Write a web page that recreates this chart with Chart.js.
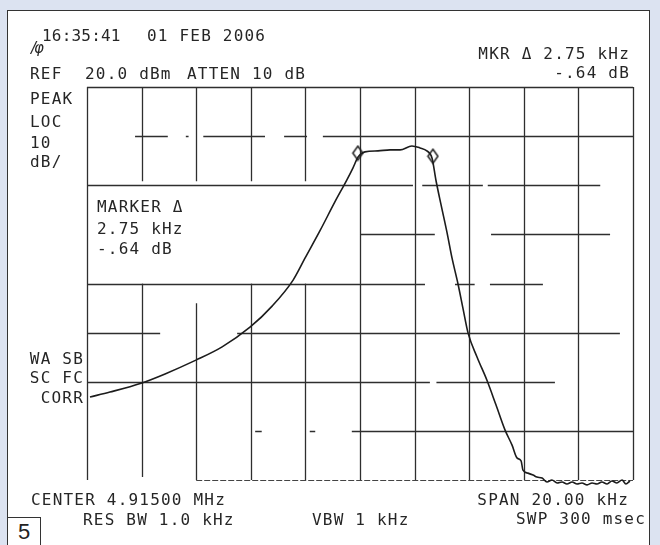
<!DOCTYPE html>
<html>
<head>
<meta charset="utf-8">
<script src="https://cdn.jsdelivr.net/npm/chart.js@4/dist/chart.umd.min.js"></script>
<style>
  html, body { margin: 0; padding: 0; }
  body { width: 660px; height: 545px; background: #dce3f1; position: relative; overflow: hidden; }
  #panel { position: absolute; left: 7px; top: 10px; width: 643px; height: 545px; background: #fff; border: 1.5px solid #333; box-sizing: border-box; }
  #chart { position: absolute; left: 0; top: 0; }
  .t { position: absolute; font-family: "DejaVu Sans Mono", monospace; font-size: 16px; line-height: 1; color: #262626; letter-spacing: 1.2px; white-space: pre; transform: translateY(-50%); }
  .r { text-align: right; }
  #fig { position: absolute; left: 7px; top: 517px; width: 34px; height: 30px; background: #fff; border: 1.5px solid #333; box-sizing: border-box; font-family: "Liberation Sans", Arial, sans-serif; font-size: 22px; line-height: 27px; text-align: center; color: #222; }
</style>
</head>
<body>
<div id="panel"></div>
<canvas id="chart" width="660" height="545"></canvas>

<div class="t" style="left:42px;top:36px;letter-spacing:0.2px">16:35:41</div>
<div class="t" style="left:147px;top:36px">01 FEB 2006</div>
<div class="t" style="left:31px;top:48px;font-family:'DejaVu Sans';font-style:italic;font-size:15px;letter-spacing:-2px">/φ</div>
<div class="t" style="left:30px;top:74px">REF</div>
<div class="t" style="left:85px;top:74px">20.0 dBm</div>
<div class="t" style="left:187px;top:74px">ATTEN 10 dB</div>
<div class="t r" style="right:30px;top:54px">MKR Δ 2.75 kHz</div>
<div class="t r" style="right:30px;top:73px">-.64 dB</div>

<div class="t" style="left:30px;top:99px">PEAK</div>
<div class="t" style="left:30px;top:122px">LOC</div>
<div class="t" style="left:30px;top:143px">10</div>
<div class="t" style="left:30px;top:162px">dB/</div>

<div class="t" style="left:97px;top:207px">MARKER Δ</div>
<div class="t" style="left:97px;top:229px">2.75 kHz</div>
<div class="t" style="left:97px;top:249px">-.64 dB</div>

<div class="t r" style="right:576px;top:359px">WA SB</div>
<div class="t r" style="right:576px;top:378px">SC FC</div>
<div class="t r" style="right:576px;top:398px">CORR</div>

<div class="t" style="left:31px;top:500px">CENTER 4.91500 MHz</div>
<div class="t" style="left:83px;top:520px">RES BW 1.0 kHz</div>
<div class="t" style="left:312px;top:520px">VBW 1 kHz</div>
<div class="t r" style="right:31px;top:500px">SPAN 20.00 kHz</div>
<div class="t r" style="right:14px;top:519px">SWP 300 msec</div>

<div id="fig">5</div>

<script>
// ---- data (frequency offset from 4.91500 MHz centre, kHz; level, dBm) ----
const freqOffsetKHz = [
  -9.89, -9.16, -8.02, -7.14, -6.01, -5.05, -4.03, -3.22, -2.45, -2.01,
  -1.47, -0.92, -0.48, -0.26, -0.07, 0.18, 0.66, 1.10, 1.47, 1.90,
  2.20, 2.45, 2.64, 2.78, 2.97, 3.19, 3.37, 3.59, 3.77, 3.96,
  4.29, 4.65, 4.98, 5.31, 5.57, 5.75, 5.90, 5.97, 6.15, 6.34,
  6.48, 6.67, 6.85, 7.03, 7.22, 7.40, 7.58, 7.77, 7.95, 8.13,
  8.32, 8.50, 8.68, 8.86, 9.05, 9.23, 9.41, 9.60, 9.74, 9.89
];
const levelDbm = [
  -43.1, -42.1, -40.3, -38.4, -35.6, -32.9, -28.9, -24.6, -19.3, -14.8,
  -9.3, -3.4, 1.1, 3.5, 5.75, 6.8, 7.0, 7.2, 7.2, 8.0,
  7.6, 7.0, 5.5, 1.07, -4.0, -9.7, -14.8, -20.1, -25.0, -30.1,
  -35.0, -39.7, -44.7, -49.8, -52.9, -55.5, -56.1, -58.0, -58.6, -59.0,
  -59.4, -59.6, -60.4, -60.0, -60.6, -60.4, -60.8, -60.4, -60.8, -60.6,
  -61.0, -60.6, -60.8, -60.4, -60.8, -60.2, -60.6, -60.0, -60.8, -60.2
];
const markerFreqKHz = [-0.08, 2.67];
const markerLevelDbm = [6.55, 5.91];
const spanKHz = [-10, 10];        // CENTER 4.91500 MHz, SPAN 20.00 kHz
const levelRangeDbm = [-60, 20];  // REF 20.0 dBm, 10 dB/div

// ---- plotter grid (pen segments, in axis units) ----
const hSegments = [
  [20, -10, 10],
  [10, -8.24, -7.04], [10, -6.38, -6.28], [10, -5.74, -3.48], [10, -2.78, -1.94], [10, -1.36, 10],
  [0, -10, 1.94], [0, 2.28, 4.5], [0, 4.68, 8.8],
  [-10, 0, 2.74], [-10, 4.8, 9.16],
  [-20, -10, 2.38], [-20, 3.48, 4.2], [-20, 4.76, 6.7],
  [-30, -10, -7.32], [-30, -4.5, 9.52],
  [-40, -10, 2.56], [-40, 2.8, 7.14],
  [-50, -3.84, -3.6], [-50, -1.84, -1.64], [-50, -0.3, 10]
];
const vSegments = [
  [-10, 20, -60],
  [-8, 20, 0.8], [-8, -20, -59.4],
  [-6, 20, 0.8], [-6, -24, -60],
  [-4, 20, 0.8], [-4, -20, -60],
  [-2, 20, 0.8], [-2, -20, -60],
  [0, 20, -60], [2, 20, -60], [4, 20, -60], [6, 20, -60], [8, 20, -60], [10, 20, -60]
];

const plotterGrid = {
  id: 'plotterGrid',
  beforeDatasetsDraw(chart) {
    const { ctx, scales: { x, y } } = chart;
    ctx.save();
    ctx.strokeStyle = '#2e2e2e';
    ctx.lineWidth = 1.3;
    ctx.beginPath();
    hSegments.forEach(([v, a, b]) => {
      const py = Math.round(y.getPixelForValue(v)) + 0.5;
      ctx.moveTo(x.getPixelForValue(a), py);
      ctx.lineTo(x.getPixelForValue(b), py);
    });
    vSegments.forEach(([v, a, b]) => {
      const px = Math.round(x.getPixelForValue(v)) + 0.5;
      ctx.moveTo(px, y.getPixelForValue(a));
      ctx.lineTo(px, y.getPixelForValue(b));
    });
    ctx.stroke();
    // bottom graticule line, dotted
    ctx.beginPath();
    ctx.setLineDash([6, 2]);
    ctx.strokeStyle = '#444';
    ctx.lineWidth = 1.2;
    const by = Math.round(y.getPixelForValue(-60)) + 0.5;
    ctx.moveTo(x.getPixelForValue(-6), by);
    ctx.lineTo(x.getPixelForValue(10), by);
    ctx.stroke();
    ctx.restore();
  }
};

// tall diamond marker symbol
const diamond = document.createElement('canvas');
diamond.width = 13; diamond.height = 17;
(() => {
  const c = diamond.getContext('2d');
  c.strokeStyle = '#1e1e1e'; c.lineWidth = 1.5;
  c.beginPath();
  c.moveTo(6.5, 1.5); c.lineTo(11.5, 8.5); c.lineTo(6.5, 15.5); c.lineTo(1.5, 8.5); c.closePath();
  c.stroke();
})();

new Chart(document.getElementById('chart'), {
  type: 'line',
  data: {
    datasets: [
      {
        data: freqOffsetKHz.map((f, i) => ({ x: f, y: levelDbm[i] })),
        borderColor: '#1c1c1c',
        borderWidth: 1.6,
        pointRadius: 0,
        cubicInterpolationMode: 'monotone',
        clip: false
      },
      {
        data: markerFreqKHz.map((f, i) => ({ x: f, y: markerLevelDbm[i] })),
        showLine: false,
        pointStyle: diamond,
        pointRadius: 7,
        clip: false
      }
    ]
  },
  options: {
    responsive: false,
    animation: false,
    layout: { padding: { left: 87, right: 27, top: 87, bottom: 65 } },
    scales: {
      x: { type: 'linear', min: spanKHz[0], max: spanKHz[1], display: false },
      y: { type: 'linear', min: levelRangeDbm[0], max: levelRangeDbm[1], display: false }
    },
    plugins: { legend: { display: false }, tooltip: { enabled: false } }
  },
  plugins: [plotterGrid]
});
</script>
</body>
</html>
